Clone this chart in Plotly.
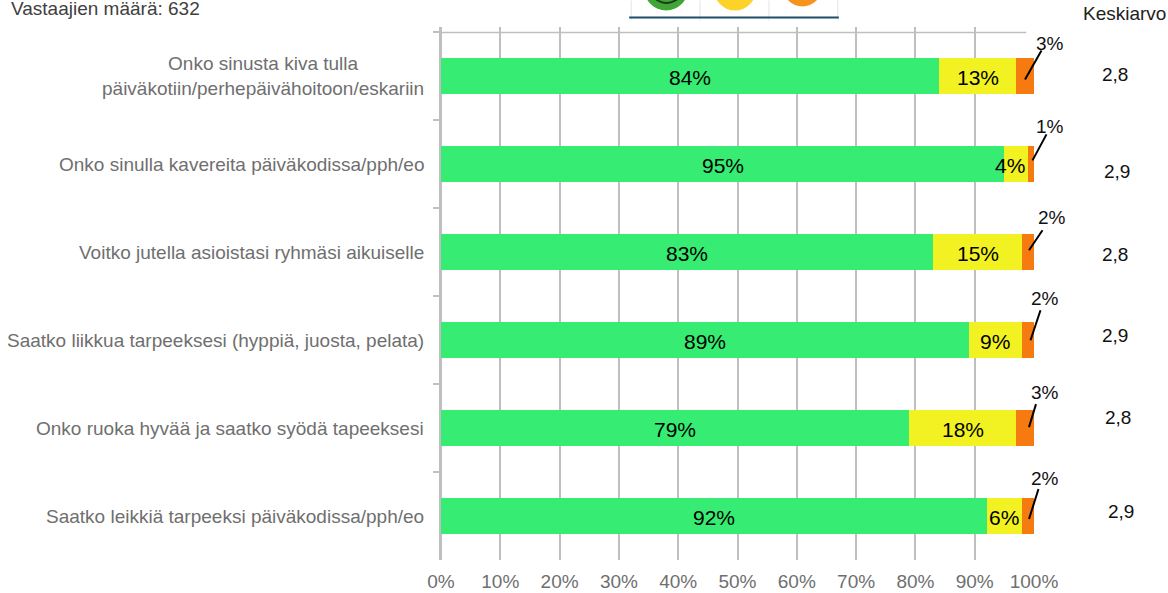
import plotly.graph_objects as go

header_text = "Vastaajien määrä: 632"
mean_header = "Keskiarvo"
categories = [
    "Onko sinusta kiva tulla<br>päiväkotiin/perhepäivähoitoon/eskariin",
    "Onko sinulla kavereita päiväkodissa/pph/eo",
    "Voitko jutella asioistasi ryhmäsi aikuiselle",
    "Saatko liikkua tarpeeksesi (hyppiä, juosta, pelata)",
    "Onko ruoka hyvää ja saatko syödä tapeeksesi",
    "Saatko leikkiä tarpeeksi päiväkodissa/pph/eo",
]
green = [84, 95, 83, 89, 79, 92]
yellow = [13, 4, 15, 9, 18, 6]
orange = [3, 1, 2, 2, 3, 2]
means = ["2,8", "2,9", "2,8", "2,9", "2,8", "2,9"]

W, H = 1168, 593
L, R, T, B = 440.5, 1034.5, 26.5, 560
FONT = "Liberation Sans, Arial, sans-serif"
GREY = "#6f6f6f"
GRID = "#bfbfbf"

def px(x):
    return (x - L) / (R - L)

def py(y):
    return (B - y) / (B - T)

# placement of hand-drawn extras, in pixels on the page
orange_label_xy = [(1051, 43), (1051, 126), (1053, 217), (1046, 298), (1046, 392), (1046, 478.5)]
leader_lines = [
    ((1042, 50), (1025.5, 79)),
    ((1047, 134), (1033, 160)),
    ((1043, 230), (1029.5, 250)),
    ((1041, 310), (1031, 340)),
    ((1036.5, 404), (1029.5, 427)),
    ((1039, 489), (1029.5, 519)),
]
mean_xy = [(1116, 74.5), (1118, 171), (1116, 254), (1116, 335), (1119, 417), (1122, 511)]
yellow_shift = [0, -6, 0, 0, 0, 0]

fig = go.Figure()
for name, vals, col in [("Vihreä", green, "#36ec72"), ("Keltainen", yellow, "#f2f222"), ("Oranssi", orange, "#f57a10")]:
    fig.add_trace(go.Bar(y=categories, x=vals, orientation="h", name=name, width=36 / 88,
                         marker=dict(color=col, line=dict(width=0)), showlegend=False, hoverinfo="skip"))

ann = []
shapes = []
for i, cat in enumerate(categories):
    # category labels
    ann.append(dict(x=0, y=cat, xref="x", yref="y", xanchor="right", yanchor="middle", xshift=-15,
                    text=cat, align="center", showarrow=False, font=dict(family=FONT, size=19, color=GREY)))
    # segment labels
    ann.append(dict(x=green[i] / 2, y=cat, xref="x", yref="y", text=f"{green[i]}%", showarrow=False, yshift=-1,
                    xanchor="center", yanchor="middle", font=dict(family=FONT, size=21, color="black")))
    ann.append(dict(x=green[i] + yellow[i] / 2, y=cat, xref="x", yref="y", text=f"{yellow[i]}%", showarrow=False,
                    xanchor="center", yanchor="middle", xshift=yellow_shift[i], yshift=-1,
                    font=dict(family=FONT, size=21, color="black")))
    # orange label + leader
    lx, ly = orange_label_xy[i]
    ann.append(dict(x=px(lx), y=py(ly), xref="paper", yref="paper", text=f"{orange[i]}%", showarrow=False,
                    xanchor="center", yanchor="middle", font=dict(family=FONT, size=19, color="#111111")))
    (x0, y0), (x1, y1) = leader_lines[i]
    shapes.append(dict(type="line", xref="paper", yref="paper", x0=px(x0), y0=py(y0), x1=px(x1), y1=py(y1),
                       line=dict(color="black", width=2), layer="above"))
    # mean value
    mx, my = mean_xy[i]
    ann.append(dict(x=px(mx), y=py(my), xref="paper", yref="paper", text=means[i], showarrow=False,
                    xanchor="center", yanchor="middle", font=dict(family=FONT, size=19, color="#111111")))

ann.append(dict(x=px(8), y=py(8), xref="paper", yref="paper", xanchor="left", yanchor="middle", text=header_text,
                showarrow=False, font=dict(family=FONT, size=19, color="#404040")))
ann.append(dict(x=px(1125), y=py(13), xref="paper", yref="paper", xanchor="center", yanchor="middle", text=mean_header,
                showarrow=False, font=dict(family=FONT, size=19, color="#222222")))

# top rule of the plot
shapes.append(dict(type="line", xref="x", yref="y", x0=0, x1=98.7, y0=-0.5, y1=-0.5,
                   line=dict(color=GRID, width=1.5), layer="below"))

# smiley legend (cropped at the page top)
for (x0, x1, y0, y1, col) in [(644, 688, -34, 10, "#3fa535"), (714, 756, -32, 10, "#fdd32a"), (783, 822, -33, 6, "#f7941e")]:
    shapes.append(dict(type="circle", xref="paper", yref="paper", x0=px(x0), x1=px(x1), y0=py(y0), y1=py(y1),
                       fillcolor=col, line=dict(width=0)))
shapes.append(dict(type="path", xref="paper", yref="paper",
                   path=f"M {px(656)} {py(-1)} Q {px(666)} {py(6)} {px(677)} {py(-1)}",
                   line=dict(color="#1d3d1d", width=2)))
for xv in (631, 700, 769, 838):
    shapes.append(dict(type="line", xref="paper", yref="paper", x0=px(xv), x1=px(xv), y0=py(0), y1=py(20),
                       line=dict(color="#e4e4e4", width=1)))
shapes.append(dict(type="line", xref="paper", yref="paper", x0=px(629), x1=px(839), y0=py(17), y1=py(17),
                   line=dict(color="#1f4e6b", width=2)))

fig.update_layout(
    width=W, height=H, barmode="stack", bargap=0.59,
    margin=dict(l=L, r=W - R, t=T, b=H - B, pad=0, autoexpand=False),
    paper_bgcolor="white", plot_bgcolor="white",
    annotations=ann, shapes=shapes,
    xaxis=dict(automargin=False, range=[0, 100], tick0=0, dtick=10, ticksuffix="%", showgrid=True, gridcolor=GRID,
               gridwidth=1.5, zeroline=True, zerolinecolor=GRID, zerolinewidth=1.5, showline=False, ticks="",
               ticklabelstandoff=8, tickfont=dict(family=FONT, size=19, color=GREY), layer="below traces"),
    yaxis=dict(automargin=False, type="category", categoryorder="array", categoryarray=categories,
               range=[5.5, -0.5 - 5.5 / 88], showticklabels=False, showline=True, linecolor=GRID, linewidth=1.5,
               ticks="outside", tickson="boundaries", ticklen=6, tickcolor=GRID, tickwidth=1.5, showgrid=False),
)
fig.write_html("out.html", config={"displayModeBar": False},
               post_script="document.body.style.margin='0';document.body.style.overflow='hidden';")
